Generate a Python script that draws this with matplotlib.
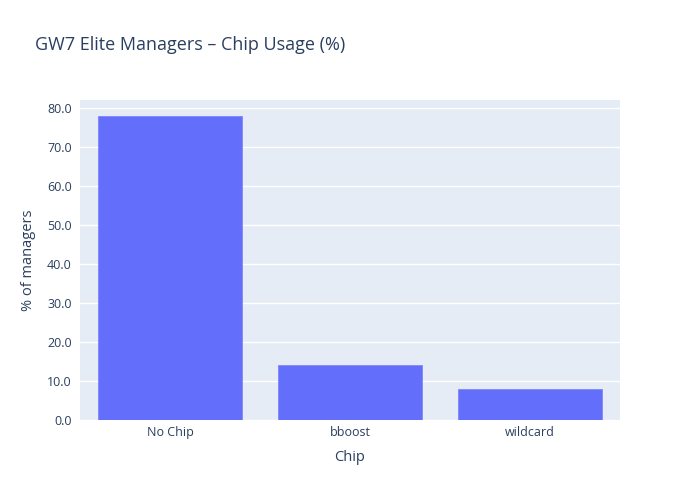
import matplotlib
matplotlib.use("Agg")
import matplotlib.pyplot as plt
import numpy as np

plt.rcParams['font.family'] = ['Open Sans', 'DejaVu Sans']

chips = ['No Chip', 'bboost', 'wildcard']
usage_pct = [78.0, 14.0, 8.0]
yticks = [0, 10, 20, 30, 40, 50, 60, 70, 80]

txt = '#2a3f5f'
fig = plt.figure(figsize=(7, 5), dpi=100)
ax = fig.add_axes([80/700, 80/500, 540/700, 320/500])
ax.set_facecolor('#e5ecf6')
x = np.arange(len(chips))
ax.bar(x, usage_pct, width=0.8, color='#636efa', edgecolor='#7f86fb', linewidth=0.6, zorder=3)
ax.set_xlim(-0.5, len(chips) - 0.5)
ax.set_ylim(0, 82.1)
ax.set_yticks(yticks)
ax.set_yticklabels(['{:.1f}'.format(v) for v in yticks])
ax.set_xticks(x)
ax.set_xticklabels(chips)
ax.grid(axis='y', color='white', linewidth=1, zorder=0)
for s in ax.spines.values():
    s.set_visible(False)
ax.tick_params(length=0, colors=txt, labelsize=9)
ax.tick_params(axis='y', pad=6)
ax.tick_params(axis='x', pad=4)
ax.set_xlabel('Chip', color=txt, fontsize=10.5, labelpad=8)
ax.set_ylabel('% of managers', color=txt, fontsize=10.5, labelpad=8)
fig.text(35/700, 1 - 45/500, 'GW7 Elite Managers – Chip Usage (%)', color=txt,
         fontsize=13, va='center', ha='left')
fig.savefig('out.png', dpi=100)
